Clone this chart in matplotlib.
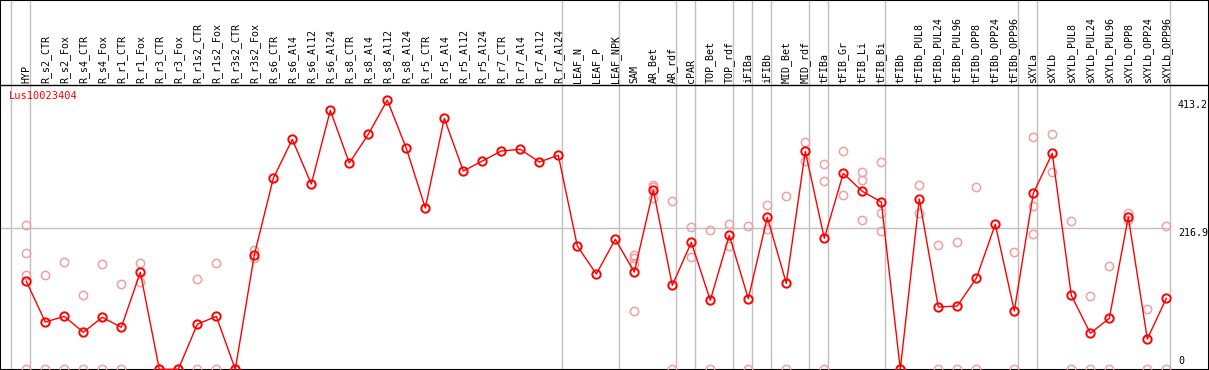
import numpy as np
import matplotlib
matplotlib.use('Agg')
import matplotlib.pyplot as plt

gene = 'Lus10023404'

samples = ['HYP',
           'R_s2_CTR', 'R_s2_Fox', 'R_s4_CTR', 'R_s4_Fox', 'R_r1_CTR', 'R_r1_Fox',
           'R_r3_CTR', 'R_r3_Fox', 'R_r1s2_CTR', 'R_r1s2_Fox', 'R_r3s2_CTR', 'R_r3s2_Fox',
           'R_s6_CTR', 'R_s6_Al4', 'R_s6_Al12', 'R_s6_Al24', 'R_s8_CTR', 'R_s8_Al4',
           'R_s8_Al12', 'R_s8_Al24', 'R_r5_CTR', 'R_r5_Al4', 'R_r5_Al12', 'R_r5_Al24',
           'R_r7_CTR', 'R_r7_Al4', 'R_r7_Al12', 'R_r7_Al24',
           'LEAF_N', 'LEAF_P', 'LEAF_NPK',
           'SAM', 'AR_Bet', 'AR_rdf', 'cPAR', 'TOP_Bet', 'TOP_rdf', 'iFIBa', 'iFIBb',
           'MID_Bet', 'MID_rdf', 'tFIBa', 'tFIB_Gr', 'tFIB_Li', 'tFIB_Bi',
           'tFIBb', 'tFIBb_PUL8', 'tFIBb_PUL24', 'tFIBb_PUL96', 'tFIBb_OPP8',
           'tFIBb_OPP24', 'tFIBb_OPP96',
           'sXYLa', 'sXYLb', 'sXYLb_PUL8', 'sXYLb_PUL24', 'sXYLb_PUL96', 'sXYLb_OPP8',
           'sXYLb_OPP24', 'sXYLb_OPP96']

# mean expression per sample
means = [135.1, 72.6, 81.3, 56.8, 79.8, 64.5, 148.9, 0, 0, 69.1, 81.3, 0, 175.4,
         293.2, 353.0, 284.4, 397.5, 316.6, 360.7, 413.2, 339.2, 247.6, 385.3, 304.4,
         319.7, 335.1, 337.7, 318.2, 328.5,
         189.3, 146.3, 199.5,
         149.3, 275.2, 128.9, 194.9, 105.9, 205.7, 108.4, 233.3, 132.0, 334.6, 201.1,
         300.8, 273.2, 256.8,
         0, 261.4, 95.6, 97.2, 139.7, 222.6, 89.5,
         270.1, 331.5, 113.6, 55.3, 78.3, 233.8, 46.5, 109.0]

# single replicates (light circles)
replicates = [[221.5, 178.0, 144.7, 0], [144.7, 0], [164.2, 0], [113.6, 0], [161.6, 0],
              [130.5, 0], [163.2, 133.5], [0, 0], [0, 0], [138.1, 0], [163.2, 0], [0, 0],
              [183.1, 170.4],
              [], [], [], [], [], [], [], [], [], [], [], [], [], [], [], [],
              [], [], [],
              [176, 171, 161, 89], [283, 280, 263], [258.3, 0], [218.4, 172.4], [213.3, 0],
              [222.6, 188.8], [219.5, 0], [251.7, 214.9], [265.5, 0], [348.4, 320.2],
              [314.7, 288.6, 0], [334.6, 267.1], [302.4, 290.1, 229.2], [317.7, 239.4, 212.3],
              [0, 0], [282.4, 239.4], [190.3, 0], [194.9, 0], [279.3, 0], [], [179.6, 0],
              [356.1, 250.2, 207.2], [360.7, 302.4], [227.6, 0], [112.0, 0], [158.6, 0],
              [239.4, 229.2], [92.6, 0], [219.5, 0]]

# last sample of each group (separator lines)
group_ends = [-1, 0, 28, 31, 34, 35, 37, 38, 39, 41, 42, 45, 52, 53, 60]

ymax = 413.2
ymid = 216.9

mono = 'DejaVu Sans Mono'
x = np.arange(len(samples))

fig = plt.figure(figsize=(12.09, 3.70), dpi=100)
ax = fig.add_axes([0, 0, 1, 1])

# pixel layout: 19 px per sample, first sample at 26.3 px, value 0 at 369.3 px
px = 19.0
py = 141.3 / ymid
ax.set_xlim(-26.3 / px, (1209 - 26.3) / px)
ax.set_ylim(-0.7 / py, 369.3 / py)
ax.set_xticks([])
ax.set_yticks([])
for s in ax.spines.values():
    s.set_color('black')
    s.set_linewidth(1.5)

# separators and grid
for g in group_ends:
    ax.axvline(g + 0.21, color='#c0c0c0', lw=1, zorder=1)
ax.hlines(ymid, ax.get_xlim()[0], 60.21, color='#c0c0c0', lw=1, zorder=1)
ax.axhline((369.3 - 85) / py, color='black', lw=1, zorder=2)

# replicates
rx, ry = [], []
for i, r in enumerate(replicates):
    for v in r:
        rx.append(i)
        ry.append(v)
ax.plot(rx, ry, ls='none', marker='o', ms=6, mfc='none', mec='#f0a0a0', mew=1.1, zorder=3)

# means
ax.plot(x, means, color='red', lw=1, marker='o', ms=6, mfc='none', mec='red', mew=1.4, zorder=4)

# sample labels
for i, s in enumerate(samples):
    ax.text(i, (369.3 - 83) / py, s, rotation=90, ha='center', va='bottom',
            fontsize=7.2, family=mono, color='black')

ax.text((9.3 - 26.3) / px, (369.3 - 91) / py, gene, ha='left', va='top',
        fontsize=7.5, family=mono, color='red')

# value labels on the right
lx = (1178 - 26.3) / px
ax.text(lx, ymax, '%.1f' % ymax, ha='left', va='top', fontsize=7.2, family=mono)
ax.text(lx, ymid, '%.1f' % ymid, ha='left', va='top', fontsize=7.2, family=mono)
ax.text(lx, 3.5 / py, '0', ha='left', va='bottom', fontsize=7.2, family=mono)

plt.savefig('out.png', dpi=100)
plt.close('all')
